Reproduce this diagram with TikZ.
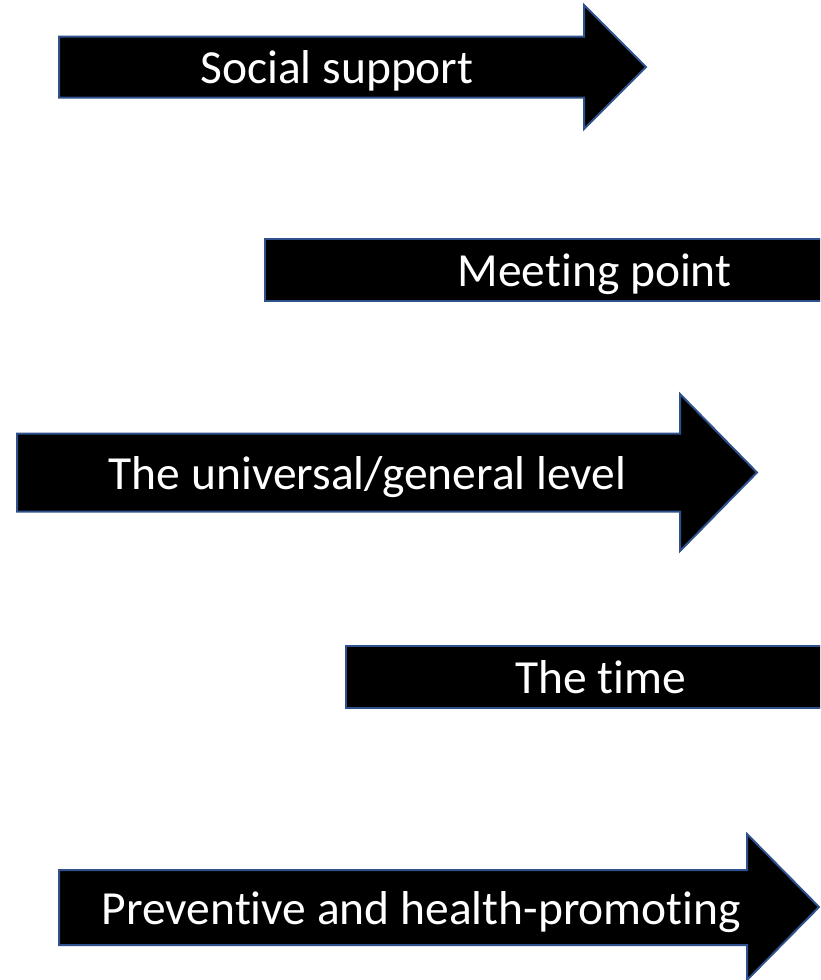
\documentclass[tikz,border=0pt]{standalone}
\usepackage{fontspec}
\setmainfont{Carlito}[Ligatures=CommonOff]
\definecolor{outline}{HTML}{2F528F}
\begin{document}
\begin{tikzpicture}[x=1pt,y=-1pt,
  arrowshape/.style={fill=black, draw=outline, line width=2pt, line join=miter},
  lbl/.style={text=white, font=\fontsize{47.5}{57}\selectfont, anchor=base, inner sep=0pt}]
\useasboundingbox (0,0) rectangle (820,980);
\fill[white] (0,0) rectangle (820,980);
\begin{scope}
\clip (0,0) rectangle (820,980);
% arrow 1
\draw[arrowshape] (59,36.5) -- (584,36.5) -- (584,5) -- (646,67) -- (584,129) -- (584,97.5) -- (59,97.5) -- cycle;
% arrow 2 (head off canvas)
\draw[arrowshape] (265,239) rectangle (850,301);
% arrow 3
\draw[arrowshape] (17,433.5) -- (680,433.5) -- (680,394) -- (757,472.5) -- (680,551) -- (680,511.5) -- (17,511.5) -- cycle;
% arrow 4 (head off canvas)
\draw[arrowshape] (346,646) rectangle (850,708);
% arrow 5
\draw[arrowshape] (59,870) -- (747,870) -- (747,834) -- (819,907) -- (747,980) -- (747,945) -- (59,945) -- cycle;
\end{scope}
\node[lbl] (t1) at (337,83) {Social support};
\node[lbl] (t2) at (594.5,286) {Meeting point};
\node[lbl] (t3) at (367.5,489) {The universal/general level};
\node[lbl] (t4) at (600.5,693) {The time};
\node[lbl] (t5) at (421.5,924) {Preventive and health-promoting};
\end{tikzpicture}
\end{document}
